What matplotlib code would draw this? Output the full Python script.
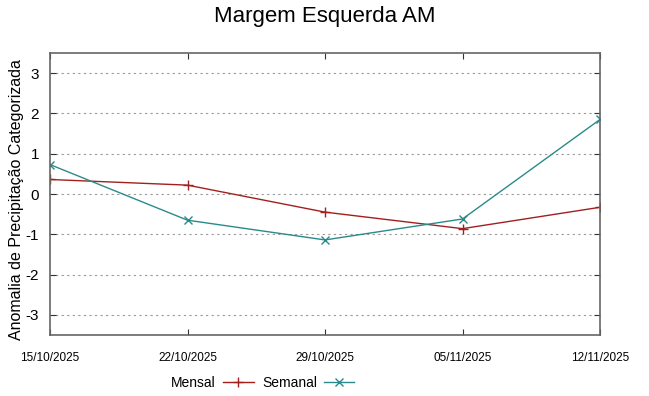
import matplotlib
matplotlib.use('Agg')
import matplotlib.pyplot as plt

# --- Data ---
dates = ['15/10/2025', '22/10/2025', '29/10/2025', '05/11/2025', '12/11/2025']
mensal = [0.36, 0.22, -0.45, -0.86, -0.33]
semanal = [0.73, -0.65, -1.14, -0.62, 1.85]
yticks = [-3, -2, -1, 0, 1, 2, 3]

plt.rcParams['font.family'] = ['Liberation Sans', 'DejaVu Sans']
plt.rcParams['axes.unicode_minus'] = False

fig = plt.figure(figsize=(6.49, 3.96), dpi=100)
ax = fig.add_axes([50 / 649, 61 / 396, 550 / 649, 282 / 396])

x = list(range(len(dates)))
ax.plot(x, mensal, color='#a31f1f', linewidth=1, marker='+', markersize=7,
        markeredgewidth=1, label='Mensal')
ax.plot(x, semanal, color='#2a8a8a', linewidth=1, marker='x', markersize=6,
        markeredgewidth=1, label='Semanal')

ax.set_xlim(0, len(dates) - 1)
ax.set_ylim(-3.5, 3.5)
ax.set_xticks(x)
ax.set_xticklabels(dates, fontsize=8.5)
ax.set_yticks(yticks)
ax.tick_params(axis='y', labelsize=11, direction='in', right=True, length=4,
               pad=8, colors='#333333')
ax.tick_params(axis='x', direction='in', top=True, length=4, pad=12, colors='#333333')
for lab in ax.get_xticklabels() + ax.get_yticklabels():
    lab.set_color('black')

ax.grid(axis='y', linestyle=(0, (2, 3)), color='#999999', linewidth=0.8)
for spine in ax.spines.values():
    spine.set_color('#666666')
    spine.set_linewidth(1.2)

ax.set_ylabel('Anomalia de Precipitação Categorizada', fontsize=11.5)
ax.yaxis.set_label_coords(-0.047, 0.479)
fig.suptitle('Margem Esquerda AM', fontsize=16, y=0.985)

fig.legend(loc='center', bbox_to_anchor=(0.405, 0.033), ncol=2, frameon=False,
           markerfirst=False, handlelength=2.2, columnspacing=0.6, handletextpad=0.5,
           prop={'size': 10})

fig.savefig('out.png', dpi=100)
